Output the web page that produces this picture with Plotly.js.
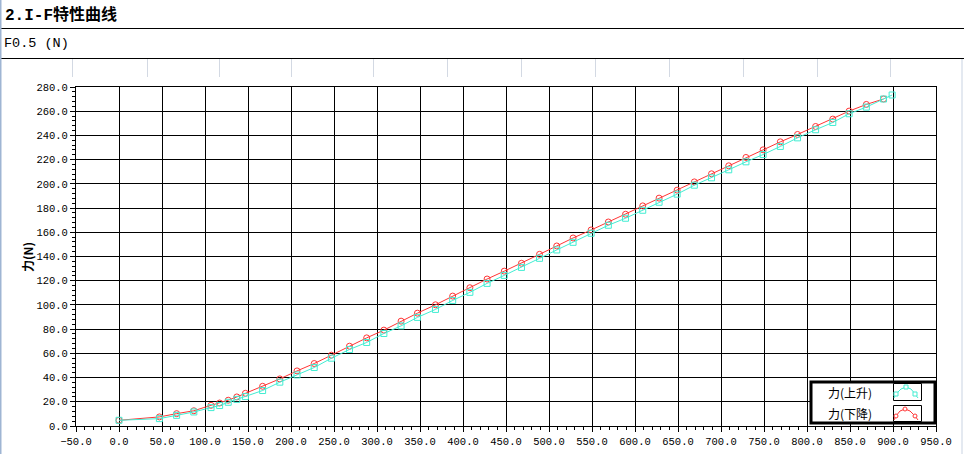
<!DOCTYPE html>
<html>
<head>
<meta charset="utf-8">
<script src="https://cdn.plot.ly/plotly-3.0.1.min.js"></script>
<style>html,body{margin:0;padding:0;background:#fff;}#chart{width:964px;height:454px;}</style>
</head>
<body>
<div id="chart"></div>
<script>
// ---- data ----
const riseCurrent = [0, 47, 67, 87, 107, 117, 127, 137, 147, 167, 187, 207, 227, 247, 268, 288, 308, 328, 347, 368, 388, 408, 428, 448, 468, 489, 509, 528, 549, 569, 589, 609, 628, 649, 669, 689, 709, 729, 749, 769, 789, 810, 830, 849, 869, 889, 899];
const riseForce = [4.7, 6.1, 8.8, 11.6, 15.2, 16.9, 19.6, 22.0, 24.3, 29.3, 36.2, 42.2, 48.3, 56.0, 63.2, 69.0, 76.4, 82.7, 89.7, 96.3, 103.7, 110.4, 117.8, 124.4, 131.0, 138.5, 145.4, 151.7, 159.2, 165.8, 171.6, 178.2, 184.8, 191.5, 198.9, 205.0, 211.6, 218.2, 224.2, 230.9, 238.0, 244.7, 250.7, 257.9, 263.4, 270.1, 273.4];
const fallCurrent = [0, 47, 67, 87, 107, 117, 127, 137, 147, 167, 187, 207, 227, 247, 268, 288, 308, 328, 347, 368, 388, 408, 428, 448, 468, 489, 509, 528, 549, 569, 589, 609, 628, 649, 669, 689, 709, 729, 749, 769, 789, 810, 830, 849, 869, 889];
const fallForce = [4.7, 7.5, 10.2, 12.6, 17.1, 19.0, 21.3, 24.0, 27.0, 32.8, 38.9, 45.5, 51.6, 58.5, 65.9, 72.8, 79.2, 86.6, 93.2, 100.1, 107.3, 114.2, 121.4, 127.9, 134.4, 141.8, 148.7, 155.3, 161.9, 168.5, 174.9, 181.8, 188.2, 194.8, 201.6, 208.3, 214.9, 221.8, 228.1, 234.7, 240.8, 247.4, 253.5, 260.1, 265.6, 270.1];
const seriesNames = ["力(上升)", "力(下降)"];
const headerTitle = "2.I-F特性曲线";
const subTitle = "F0.5 (N)";
const yTitle = "力(N)";
const xTitle = "电流(mA)";

// ---- styling / layout helpers ----
const CYAN = "#42EDD2", RED = "#FF3535";
const L = 76, T = 87, W = 860, H = 339, FW = 964, FH = 454;
const px = x => (x - L) / W;
const py = y => (T + H - y) / H;

const traces = [
  {x: fallCurrent, y: fallForce, name: seriesNames[1], type: "scatter", mode: "lines+markers",
   line: {color: RED, width: 1}, marker: {symbol: "circle-open", size: 6, color: RED, line: {width: 1, color: RED}}},
  {x: riseCurrent, y: riseForce, name: seriesNames[0], type: "scatter", mode: "lines+markers",
   line: {color: CYAN, width: 1}, marker: {symbol: "square-open", size: 6, color: CYAN, line: {width: 1, color: CYAN}}}
];

const tickFont = {family: "Liberation Mono, DejaVu Sans Mono, monospace", size: 10.5, color: "#000"};
const shapes = [];
const ann = [];
function hline(x0, x1, y, color, w) { shapes.push({type: "line", xref: "paper", yref: "paper", x0: px(x0), x1: px(x1), y0: py(y), y1: py(y), line: {color, width: w}, layer: "above"}); }
function vline(x, y0, y1, color, w) { shapes.push({type: "line", xref: "paper", yref: "paper", x0: px(x), x1: px(x), y0: py(y0), y1: py(y1), line: {color, width: w}, layer: "above"}); }
function rect(x0, y0, x1, y1, color, w, fill) { shapes.push({type: "rect", xref: "paper", yref: "paper", x0: px(x0), x1: px(x1), y0: py(y0), y1: py(y1), line: {color, width: w}, fillcolor: fill || "rgba(0,0,0,0)", layer: "above"}); }
function text(t, x, y, xa, ya, font, angle) { ann.push({text: t, xref: "paper", yref: "paper", x: px(x), y: py(y), xanchor: xa, yanchor: ya, showarrow: false, font, textangle: angle || 0}); }

// header
text(headerTitle, 3, 15, "left", "middle", {family: "Liberation Mono, Noto Sans CJK SC", size: 16, color: "#000", weight: "bold"});
hline(0, FW, 28.5, "#000", 1);
text(subTitle, 2, 43.5, "left", "middle", {family: "Liberation Mono, Noto Sans CJK SC", size: 13.5, color: "#000"});
hline(0, FW, 58.5, "#000", 1);
[72, 147, 219, 291, 373, 447, 521, 595, 669, 743, 817, 890].forEach(x => vline(x + 0.5, 59, 77, "#d3d9e3", 1));
vline(962, 59, FH, "#c9d3e2", 1);
vline(0.5, 0, FH, "#9fb5d3", 2);

// axis titles
text(yTitle, 27, 257, "center", "middle", {family: "Noto Sans CJK SC", size: 12, color: "#000", weight: "bold"}, -90);
text(xTitle, 505, 448.5, "center", "top", {family: "Noto Sans CJK SC", size: 12, color: "#000"});

// legend box (drawn)
rect(811, 382, 935, 423, "#000", 3, "#fff");
text(seriesNames[0], 826, 392.5, "left", "middle", {family: "Noto Sans CJK SC", size: 12, color: "#000"});
text(seriesNames[1], 826, 413.5, "left", "middle", {family: "Noto Sans CJK SC", size: 12, color: "#000"});
rect(893.5, 383.5, 921.5, 400.5, "#000", 1, "#fff");
rect(893.5, 405.5, 921.5, 421.5, "#000", 1, "#fff");
function pathPts(pts) { return pts.map((p, i) => (i ? "L" : "M") + px(p[0]) + "," + py(p[1])).join(" "); }
const cy = [[894, 398], [896, 394], [901, 389], [906, 387], [911, 389], [915, 394], [918, 398]];
const rd = [[894, 420], [896, 416], [900, 411], [905, 409], [910, 411], [915, 416], [918, 420]];
shapes.push({type: "path", xref: "paper", yref: "paper", path: pathPts(cy), line: {color: CYAN, width: 1}, layer: "above"});
shapes.push({type: "path", xref: "paper", yref: "paper", path: pathPts(rd), line: {color: RED, width: 1}, layer: "above"});
[[896, 394], [906, 387], [915, 394]].forEach(p => rect(p[0] - 2, p[1] - 2, p[0] + 2, p[1] + 2, CYAN, 1, "#fff"));
[[896, 416], [905, 409], [915, 416]].forEach(p => shapes.push({type: "circle", xref: "paper", yref: "paper", x0: px(p[0] - 2), x1: px(p[0] + 2), y0: py(p[1] - 2), y1: py(p[1] + 2), line: {color: RED, width: 1}, fillcolor: "#fff", layer: "above"}));

const layout = {
  width: FW, height: FH,
  margin: {l: L, r: FW - L - W, t: T, b: FH - T - H, pad: 0},
  paper_bgcolor: "#fff", plot_bgcolor: "#fff",
  showlegend: false,
  xaxis: {range: [-50, 950], tick0: -50, dtick: 50, tickformat: ".1f", showgrid: true, gridcolor: "#000", gridwidth: 1,
          zeroline: false, showline: true, linecolor: "#000", linewidth: 1, mirror: true,
          ticks: "outside", ticklen: 5, tickcolor: "#000", tickwidth: 1, tickfont: tickFont,
          minor: {dtick: 10, ticks: "outside", ticklen: 3, tickcolor: "#000", showgrid: false}},
  yaxis: {range: [0, 280], tick0: 0, dtick: 20, tickformat: ".1f", showgrid: true, gridcolor: "#000", gridwidth: 1,
          zeroline: false, showline: true, linecolor: "#000", linewidth: 1, mirror: true,
          ticks: "outside", ticklen: 5, tickcolor: "#000", tickwidth: 1, tickfont: tickFont,
          minor: {dtick: 4, ticks: "outside", ticklen: 3, tickcolor: "#000", showgrid: false}},
  shapes, annotations: ann
};
Plotly.newPlot("chart", traces, layout, {displayModeBar: false, staticPlot: true});
</script>
</body>
</html>
